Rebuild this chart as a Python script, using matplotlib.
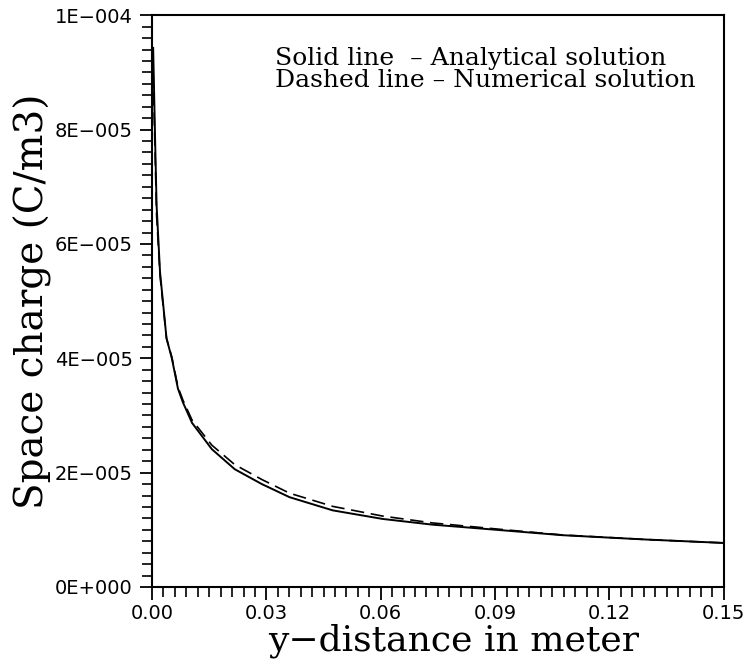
import matplotlib
matplotlib.use("Agg")
import matplotlib.pyplot as plt
from matplotlib.ticker import MultipleLocator, FixedLocator, FixedFormatter

# values (tilt of the scan corrected)
y_distance = [0.0003, 0.0008, 0.0012, 0.0021, 0.0038, 0.0052, 0.0068, 0.0081,
              0.0105, 0.0157, 0.0217, 0.0288, 0.0361, 0.0474, 0.0605, 0.0736,
              0.0911, 0.1076, 0.1296, 0.15]

analytical = [9.43e-5, 7.86e-5, 6.68e-5, 5.51e-5, 4.35e-5, 4.00e-5, 3.47e-5,
              3.23e-5, 2.87e-5, 2.41e-5, 2.06e-5, 1.80e-5, 1.57e-5, 1.34e-5,
              1.19e-5, 1.09e-5, 0.996e-5, 0.906e-5, 0.83e-5, 0.77e-5]

numerical = [9.0e-5, 7.6e-5, 6.5e-5, 5.45e-5, 4.35e-5, 4.02e-5, 3.50e-5,
             3.27e-5, 2.92e-5, 2.48e-5, 2.14e-5, 1.88e-5, 1.64e-5, 1.41e-5,
             1.24e-5, 1.12e-5, 1.01e-5, 0.91e-5, 0.83e-5, 0.77e-5]

x_ticks = [0.0, 0.03, 0.06, 0.09, 0.12, 0.15]
x_tick_labels = ["0.00", "0.03", "0.06", "0.09", "0.12", "0.15"]
y_ticks = [0.0, 2e-5, 4e-5, 6e-5, 8e-5, 1e-4]
y_tick_labels = ["0E+000", "2E\u2212005", "4E\u2212005", "6E\u2212005",
                 "8E\u2212005", "1E\u2212004"]

serif = "DejaVu Serif"

fig = plt.figure(figsize=(7.47, 6.64), dpi=100)
ax = fig.add_axes([0.2035, 0.116, 0.7655, 0.861])

ax.plot(y_distance, analytical, color="black", linewidth=1.4)
ax.plot(y_distance, numerical, color="black", linewidth=1.2,
        linestyle=(0, (8, 4)))

ax.set_xlim(0, 0.15)
ax.set_ylim(0, 1e-4)

ax.xaxis.set_major_locator(FixedLocator(x_ticks))
ax.xaxis.set_major_formatter(FixedFormatter(x_tick_labels))
ax.xaxis.set_minor_locator(MultipleLocator(0.003))
ax.yaxis.set_major_locator(FixedLocator(y_ticks))
ax.yaxis.set_major_formatter(FixedFormatter(y_tick_labels))
ax.yaxis.set_minor_locator(MultipleLocator(2e-6))

ax.tick_params(which="major", direction="out", length=9, width=1.3,
               labelsize=14, colors="black")
ax.tick_params(axis="y", which="major", pad=5)
ax.tick_params(axis="x", which="major", pad=3)
ax.tick_params(which="minor", direction="out", length=7, width=1.2)

for side in ["left", "bottom", "top", "right"]:
    ax.spines[side].set_linewidth(1.5)

ax.set_xlabel("y\u2212distance in meter", fontsize=26, family=serif)
ax.xaxis.label.set_va("top")
ax.xaxis.set_label_coords(0.527, -0.064)
ax.set_ylabel("Space charge (C/m3)", fontsize=28, family=serif,
              labelpad=2)

# legend text, written inside the plot as in the original
ax.text(0.215, 0.925, "Solid line  \u2013 Analytical solution",
        transform=ax.transAxes, fontsize=18, family=serif,
        va="center", ha="left")
ax.text(0.215, 0.886, "Dashed line \u2013 Numerical solution",
        transform=ax.transAxes, fontsize=18, family=serif,
        va="center", ha="left")

plt.savefig("out.png", dpi=100)
plt.close()
